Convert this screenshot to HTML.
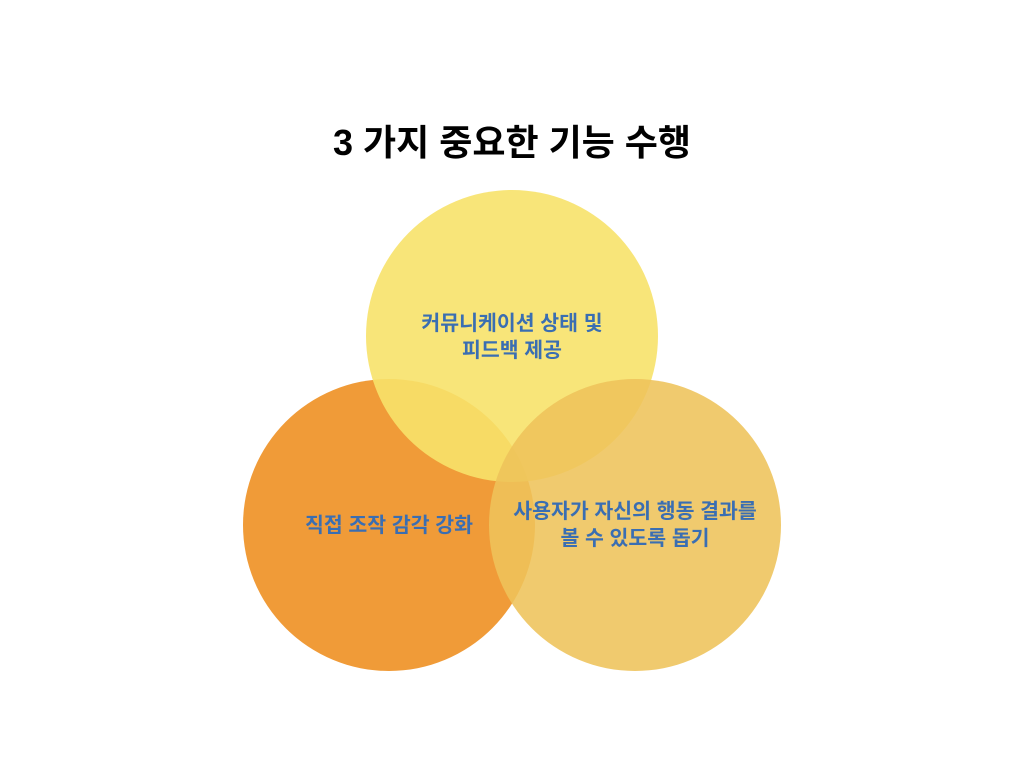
<!DOCTYPE html>
<html><head><meta charset="utf-8"><style>
body{margin:0;background:#fff;width:1024px;height:768px;overflow:hidden;font-family:"Liberation Sans","Noto Sans CJK KR",sans-serif}
</style></head><body>
<svg width="1024" height="768" xmlns="http://www.w3.org/2000/svg" style="position:absolute;left:0;top:0">
<text x="512" y="155" text-anchor="middle" font-family="Liberation Sans, Noto Sans CJK KR, sans-serif" font-weight="bold" font-size="36" fill="#000">3 가지 중요한 기능 수행</text>
<circle cx="389" cy="525" r="146" fill="#F09B38"/>
<circle cx="512" cy="336" r="146" fill="#F7E26A" opacity="0.9"/>
<circle cx="635" cy="525" r="146" fill="#EEC35A" opacity="0.88"/>
<g font-family="Liberation Sans, Noto Sans CJK KR, sans-serif" font-weight="bold" font-size="20.5" fill="#3A6EB2" text-anchor="middle">
<text x="512" y="330">커뮤니케이션 상태 및</text>
<text x="512" y="357">피드백 제공</text>
<text x="389" y="532">직접 조작 감각 강화</text>
<text x="635" y="518">사용자가 자신의 행동 결과를</text>
<text x="635" y="545">볼 수 있도록 돕기</text>
</g>
</svg>
</body></html>
